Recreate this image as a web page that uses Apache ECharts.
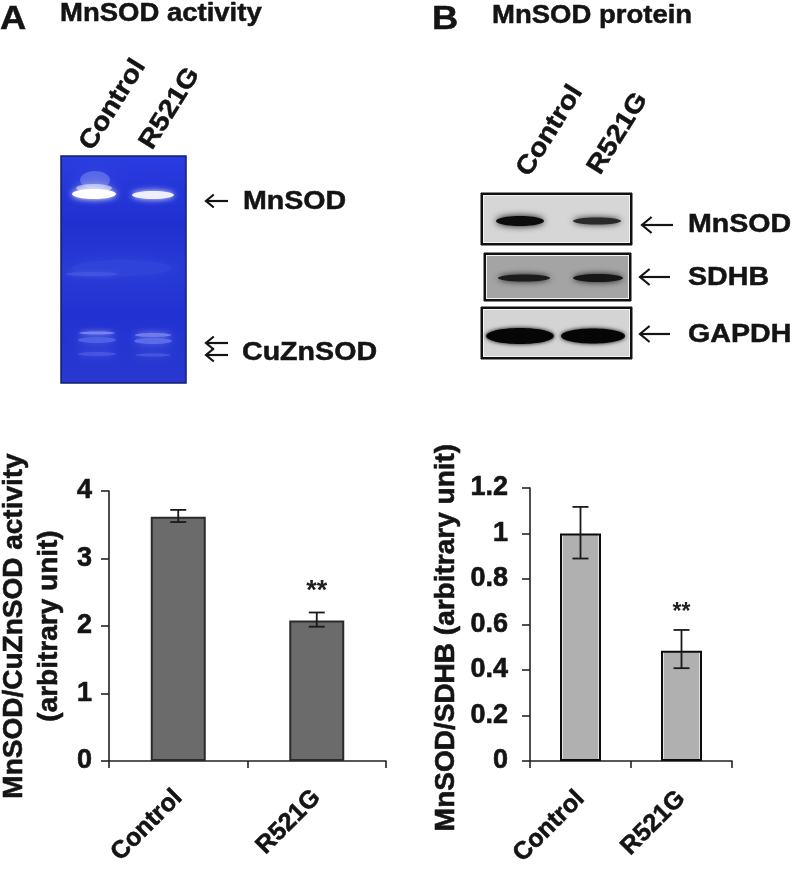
<!DOCTYPE html>
<html><head><meta charset="utf-8">
<style>html,body{margin:0;padding:0;background:#fff}#c{width:792px;height:877px}</style>
<script src="https://cdn.jsdelivr.net/npm/echarts@6/dist/echarts.min.js"></script>
</head><body><div id="c"></div>
<script>
const categories = ['Control', 'R521G'];
const activityValues = [3.62, 2.08];
const activityLow = [3.54, 1.99];
const activityHigh = [3.72, 2.2];
const proteinValues = [1.0, 0.485];
const proteinLow = [0.89, 0.408];
const proteinHigh = [1.117, 0.576];
const significance = ['', '**'];
const activityTitle = 'MnSOD/CuZnSOD activity\n(arbitrary unit)';
const proteinTitle = 'MnSOD/SDHB (arbitrary unit)';

const FF = '"Liberation Sans", Arial, sans-serif';
const INK = '#141414';
const txt = (text, x, y, size, rot, sx) => ({
  type: 'text', x, y, rotation: (rot || 0) * Math.PI / 180, scaleX: sx || 1.1, z: 20,
  style: { text, font: `bold ${size}px ${FF}`, fill: INK, stroke: INK, lineWidth: 0.5, align: 'left', verticalAlign: 'middle' }
});
const blob = (cx, cy, rx, ry, fill, blur, z) => ({
  type: 'ellipse', z: z || 5, shape: { cx, cy, rx, ry },
  style: { fill, shadowBlur: blur, shadowColor: fill }
});
const arrow = (x1, x2, y, h) => ([
  { type: 'line', z: 20, shape: { x1, y1: y, x2, y2: y }, style: { stroke: INK, lineWidth: 2.2 } },
  { type: 'polyline', z: 20, shape: { points: [[x1 + h * 1.2, y - h], [x1, y], [x1 + h * 1.2, y + h]] }, style: { stroke: INK, lineWidth: 2.2, fill: null } }
]);
const box = (x, y, w, h, fill, lw) => ([
  { type: 'rect', z: 3, shape: { x, y, width: w, height: h }, style: { fill: '#111', stroke: '#111', lineWidth: lw } },
  { type: 'rect', z: 4, shape: { x: x + 2, y: y + 2, width: w - 4, height: h - 4 }, style: { fill: '#f2f2f2' } },
  { type: 'rect', z: 4, shape: { x: x + 3, y: y + 3, width: w - 6, height: h - 6 }, style: { fill } }
]);

const gel = [
  { type: 'rect', z: 2, shape: { x: 61, y: 156, width: 125, height: 227 },
    style: { stroke: '#10206a', lineWidth: 1.5,
      fill: { type: 'linear', x: 0, y: 0, x2: 0, y2: 1, colorStops: [
        { offset: 0, color: '#2a3ce0' }, { offset: .3, color: '#2030d0' },
        { offset: .5, color: '#283ad6' }, { offset: .7, color: '#2232d2' }, { offset: 1, color: '#2838d0' }] } } },
  blob(122, 268, 50, 8, '#2f42da', 10, 3),
  blob(92, 274, 26, 2, '#4153e0', 5, 3),
  blob(95, 180, 15, 9, 'rgba(190,200,255,0.3)', 16, 4),
  blob(94, 188, 18, 4, 'rgba(225,230,255,0.6)', 8, 5),
  blob(94, 194, 22, 5, '#ffffff', 6, 6),
  blob(153, 195, 21, 4, '#eef0ff', 6, 6),
  blob(97, 333, 18, 1.5, '#7e8aee', 5, 5),
  blob(97, 340, 19, 3, '#5060e6', 8, 5),
  blob(97, 354, 19, 2, '#4555e2', 7, 5),
  blob(153, 335, 18, 2, '#7480ec', 6, 5),
  blob(153, 341, 19, 3, '#5c6ce8', 8, 5),
  blob(153, 355, 18, 1.5, '#4555e2', 6, 5),
  txt('MnSOD activity', 60, 14, 25),
  txt('A', 0, 20, 33),
  txt('Control', 86, 148, 26, 58),
  txt('R521G', 146, 147, 26, 58),
  ...arrow(206, 228, 201, 6.5),
  txt('MnSOD', 243, 202, 26),
  ...arrow(206, 228, 343, 6.5),
  ...arrow(206, 228, 355, 6.5),
  txt('CuZnSOD', 242, 353, 26)
];

const blots = [
  ...box(481, 193, 151, 52, '#d6d6d6', 1),
  blob(520, 221, 24, 5, '#0c0c0c', 7),
  blob(597, 221, 24, 3.5, '#2a2a2a', 6),
  ...box(484, 253, 147, 48, '#a4a4a4', 1),
  blob(524, 278, 26, 3.5, '#1c1c1c', 6),
  blob(598, 278, 25, 4, '#161616', 6),
  ...box(481, 307, 151, 52, '#d4d4d4', 1),
  blob(520, 336, 34, 8, '#060606', 4),
  blob(593, 336, 32, 7.5, '#060606', 4),
  txt('MnSOD protein', 492, 16, 25),
  txt('B', 432, 20, 33),
  txt('Control', 523, 174, 26, 58),
  txt('R521G', 594, 172, 26, 58),
  ...arrow(642, 673, 225, 8),
  txt('MnSOD', 688, 225, 26),
  ...arrow(640, 670, 277, 8),
  txt('SDHB', 688, 278, 26),
  ...arrow(640, 670, 334, 8),
  txt('GAPDH', 688, 335, 26)
];

const barFill = (c, edge) => ({ type: 'linear', x: 0, y: 0, x2: 1, y2: 0, colorStops: [
  { offset: 0, color: edge }, { offset: .07, color: edge }, { offset: .075, color: c },
  { offset: .925, color: c }, { offset: .93, color: edge }, { offset: 1, color: edge }] });

const errorSeries = (name, idx, low, high, cap, starGap, starSize) => ({
  type: 'custom', name, xAxisIndex: idx, yAxisIndex: idx, z: 10,
  data: categories.map((c, i) => [i, low[i], high[i], significance[i]]),
  encode: { x: 0, y: [1, 2] },
  renderItem(params, api) {
    const lo = api.coord([api.value(0), api.value(1)]);
    const hi = api.coord([api.value(0), api.value(2)]);
    const st = { stroke: '#1a1a1a', lineWidth: 1.8 };
    const seg = (x1, y1, x2, y2) => ({ type: 'line', shape: { x1, y1, x2, y2 }, style: st });
    const children = [seg(lo[0], lo[1], hi[0], hi[1]),
      seg(lo[0] - cap, lo[1], lo[0] + cap, lo[1]), seg(hi[0] - cap, hi[1], hi[0] + cap, hi[1])];
    const s = api.value(3);
    if (s) children.push({ type: 'text', style: { text: s, x: hi[0], y: hi[1] - starGap,
      font: `bold ${starSize}px ${FF}`, fill: '#222', align: 'center', verticalAlign: 'middle' } });
    return { type: 'group', children };
  }
});

const heavy = { textBorderColor: INK, textBorderWidth: 0.6 };
const xAxis = (gridIndex, margin) => ({
  type: 'category', gridIndex, data: categories,
  axisLine: { lineStyle: { color: '#222', width: 1.6 } },
  axisTick: { show: true, alignWithLabel: false, length: 7, lineStyle: { color: '#222', width: 1.6 } },
  axisLabel: Object.assign({ rotate: 45, interval: 0, margin, fontFamily: FF, fontWeight: 'bold', fontSize: 25, color: INK }, heavy)
});
const yAxis = (gridIndex, max, interval, name, nameGap, padding, margin) => ({
  type: 'value', gridIndex, min: 0, max, interval, name, nameLocation: 'middle', nameGap, nameRotate: 90,
  nameTextStyle: Object.assign({ fontFamily: FF, fontWeight: 'bold', fontSize: 28, color: INK, lineHeight: 35, padding }, heavy),
  splitLine: { show: false },
  axisLine: { show: true, lineStyle: { color: '#222', width: 1.6 } },
  axisTick: { show: true, length: 8, lineStyle: { color: '#222', width: 1.6 } },
  axisLabel: Object.assign({ margin, fontFamily: FF, fontWeight: 'bold', fontSize: 27, color: INK }, heavy)
});

const chart = echarts.init(document.getElementById('c'), null, { renderer: 'canvas' });
chart.setOption({
  animation: false,
  backgroundColor: '#fff',
  grid: [
    { left: 109, top: 491, width: 277, height: 270, outerBoundsMode: 'none' },
    { left: 530, top: 488, width: 202, height: 273, outerBoundsMode: 'none' }
  ],
  xAxis: [xAxis(0, 33), xAxis(1, 34)],
  yAxis: [
    yAxis(0, 4, 1, activityTitle, 42, [0, 0, 0, 0], 17),
    yAxis(1, 1.2, 0.2, proteinTitle, 66, [0, 26, 0, 0], 22)
  ],
  series: [
    { type: 'bar', name: 'MnSOD/CuZnSOD activity', xAxisIndex: 0, yAxisIndex: 0, barWidth: 55,
      data: activityValues, itemStyle: { color: '#6b6b6b', borderColor: '#2a2a2a', borderWidth: 2 } },
    errorSeries('activity error', 0, activityLow, activityHigh, 8, 21, 27),
    { type: 'bar', name: 'MnSOD/SDHB', xAxisIndex: 1, yAxisIndex: 1, barWidth: 41,
      data: proteinValues, itemStyle: { color: barFill('#b0b0b0', '#e2e2e2'), borderColor: '#0c0c0c', borderWidth: 2 } },
    errorSeries('protein error', 1, proteinLow, proteinHigh, 8, 17, 23)
  ],
  graphic: { elements: [...gel, ...blots] }
});
</script></body></html>
